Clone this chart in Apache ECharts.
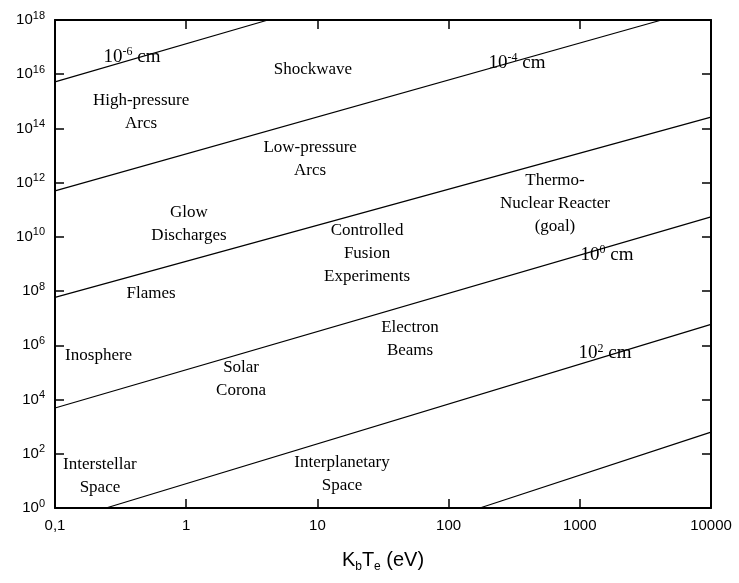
<!DOCTYPE html>
<html>
<head>
<meta charset="utf-8">
<script src="https://cdn.jsdelivr.net/npm/echarts@6/dist/echarts.min.js"></script>
<style>
  html, body { margin: 0; padding: 0; background: #fff; }
  #main { width: 739px; height: 583px; }
</style>
</head>
<body>
<div id="main"></div>
<script>
// constant Debye length lines, [kT (eV), n (cm^-3)] end points
var line1 = [[0.1, 5.2e15], [4.2, 1e18]];
var line2 = [[0.1, 5.0e11], [4200, 1e18]];
var line3 = [[0.1, 5.9e7], [10000, 2.6e14]];
var line4 = [[0.1, 4.9e3], [10000, 5.5e10]];
var line5 = [[0.245, 1], [10000, 5.9e6]];
var line6 = [[173, 1], [10000, 630]];

// region labels
var regionNames = [
  'Shockwave', 'High-pressure\nArcs', 'Low-pressure\nArcs',
  'Thermo-\nNuclear Reacter\n(goal)', 'Glow\nDischarges',
  'Controlled\nFusion\nExperiments', 'Flames', 'Electron\nBeams',
  'Inosphere', 'Solar\nCorona', 'Interstellar\nSpace', 'Interplanetary\nSpace'
];
var regionX = [9.25, 0.453, 8.8, 647, 1.05, 23.9, 0.54, 50.8, 0.215, 2.62, 0.22, 15.4];
var regionY = [1.5e16, 3.9e14, 7.2e12, 1.7e11, 2.9e10, 2.5e9, 8.3e7, 1.66e6, 4.3e5, 5.6e4, 14.8, 17.5];

// line labels (Debye length)
var lambdaExp = ['-6', '-4', '0', '2'];
var lambdaX = [0.386, 332, 1610, 1556];
var lambdaY = [4.2e16, 2.7e16, 2.1e9, 5.0e5];

var chart = echarts.init(document.getElementById('main'));

var serif = 'Liberation Serif';
var sans = 'Liberation Sans';

function lineSeries(d) {
  return {
    type: 'line',
    data: d,
    showSymbol: false,
    symbol: 'none',
    silent: true,
    lineStyle: { color: '#000', width: 1.2 }
  };
}

var regionData = regionNames.map(function (n, i) {
  return { name: n, value: [regionX[i], regionY[i]] };
});
var lambdaData = lambdaExp.map(function (e, i) {
  return { name: e, value: [lambdaX[i], lambdaY[i]] };
});

var axisLineStyle = { color: '#000', width: 2 };
var tickStyle = { inside: true, length: 9, lineStyle: { color: '#000', width: 1.5 } };

var option = {
  animation: false,
  backgroundColor: '#fff',
  grid: { left: 55, top: 20, right: 28, bottom: 75, containLabel: false },
  xAxis: [{
    type: 'log', logBase: 10, min: 0.1, max: 10000,
    position: 'bottom',
    name: 'K{sub|b}T{sub|e} (eV)',
    nameLocation: 'middle',
    nameGap: 40,
    nameTextStyle: {
      fontFamily: sans, fontSize: 20, color: '#000',
      rich: { sub: { fontFamily: sans, fontSize: 12, color: '#000', padding: [13, 0, 0, 0] } }
    },
    axisLine: { lineStyle: axisLineStyle },
    axisTick: tickStyle,
    minorTick: { show: false },
    splitLine: { show: false },
    axisLabel: {
      margin: 10, fontFamily: sans, fontSize: 15, color: '#000',
      formatter: function (v) {
        var e = Math.round(Math.log10(v));
        return e < 0 ? '0,1' : String(Math.pow(10, e));
      }
    }
  }, {
    type: 'log', logBase: 10, min: 0.1, max: 10000,
    position: 'top',
    axisLine: { lineStyle: axisLineStyle },
    axisTick: tickStyle,
    splitLine: { show: false },
    axisLabel: { show: false }
  }],
  yAxis: [{
    type: 'log', logBase: 100, min: 1, max: 1e18,
    position: 'left',
    axisLine: { lineStyle: axisLineStyle },
    axisTick: tickStyle,
    splitLine: { show: false },
    axisLabel: {
      margin: 10, fontFamily: sans, fontSize: 15, color: '#000',
      formatter: function (v) {
        var e = Math.round(Math.log10(v));
        return '10{sup|' + e + '}';
      },
      rich: { sup: { fontFamily: sans, fontSize: 11, color: '#000', padding: [0, 0, 9, 0] } }
    }
  }, {
    type: 'log', logBase: 100, min: 1, max: 1e18,
    position: 'right',
    axisLine: { lineStyle: axisLineStyle },
    axisTick: tickStyle,
    splitLine: { show: false },
    axisLabel: { show: false }
  }],
  series: [
    lineSeries(line1), lineSeries(line2), lineSeries(line3),
    lineSeries(line4), lineSeries(line5), lineSeries(line6),
    {
      type: 'scatter',
      data: regionData,
      symbolSize: 0,
      silent: true,
      itemStyle: { color: '#000', opacity: 1 },
      label: {
        show: true, position: 'inside',
        fontFamily: serif, fontSize: 17, lineHeight: 23, color: '#000', opacity: 1,
        align: 'center', verticalAlign: 'middle',
        formatter: function (p) { return p.name; }
      }
    },
    {
      type: 'scatter',
      data: lambdaData,
      symbolSize: 0,
      silent: true,
      itemStyle: { color: '#000', opacity: 1 },
      label: {
        show: true, position: 'inside',
        fontFamily: serif, fontSize: 19, color: '#000', opacity: 1,
        formatter: function (p) { return '10{sup|' + p.name + '} cm'; },
        rich: { sup: { fontFamily: serif, fontSize: 12, color: '#000', padding: [0, 0, 10, 0] } }
      }
    }
  ]
};

chart.setOption(option);
</script>
</body>
</html>
